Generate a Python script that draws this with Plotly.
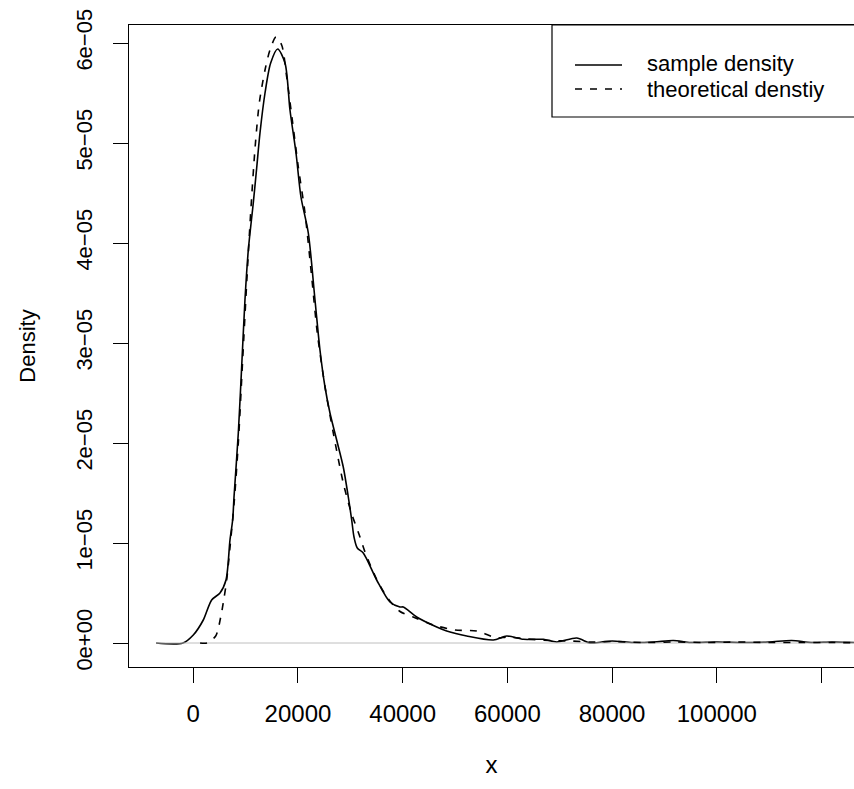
import plotly.graph_objects as go

# ---- data ----
sample_x = [-7100, -1970, 0, 1910, 3510, 5100, 6250, 7010, 7520, 7780, 8600, 9240, 9870,
            10510, 11460, 12110, 12740, 13700, 14780, 16120, 17520, 18470, 19620, 20570,
            21970, 23250, 24200, 25160, 26110, 27390, 28650, 29610, 30260, 30700, 31330,
            32470, 35030, 37570, 39480, 40120, 42670, 46500, 48410, 52230, 57320, 59870,
            63050, 66870, 69420, 73240, 75780, 78000, 80000, 84000, 88000, 91700, 95000,
            100000, 105000, 110000, 114300, 118000, 122000, 126200]
sample_y = [0, 0, 0.8e-6, 2.3e-6, 4.3e-6, 5.0e-6, 6.3e-6, 1.03e-5, 1.23e-5, 1.46e-5, 2.1e-5,
            2.76e-5, 3.43e-5, 3.93e-5, 4.4e-5, 4.75e-5, 5.1e-5, 5.5e-5, 5.8e-5, 5.94e-5,
            5.8e-5, 5.33e-5, 4.9e-5, 4.46e-5, 4.1e-5, 3.43e-5, 2.93e-5, 2.56e-5, 2.3e-5,
            2.03e-5, 1.76e-5, 1.46e-5, 1.23e-5, 1.06e-5, 9.5e-6, 9.0e-6, 6.3e-6, 4.1e-6,
            3.6e-6, 3.6e-6, 2.6e-6, 1.6e-6, 1.2e-6, 0.7e-6, 0.3e-6, 0.7e-6, 0.37e-6,
            0.37e-6, 0.1e-6, 0.5e-6, 0.0, 0.1e-6, 0.2e-6, 0.05e-6, 0.1e-6, 0.25e-6, 0.05e-6,
            0.1e-6, 0.05e-6, 0.1e-6, 0.25e-6, 0.05e-6, 0.1e-6, 0.05e-6]

theo_x = [1300, 2600, 4280, 5240, 5870, 6380, 7000, 7800, 8600, 9400, 10200, 10960, 11800,
          12610, 13700, 14650, 15800, 16880, 17840, 18990, 20060, 21340, 22620, 23690, 25200,
          26750, 28650, 30200, 31710, 32800, 35000, 37000, 39350, 42000, 45850, 50000, 54130,
          57960, 60000, 63690, 68000, 72000, 76000, 80000, 86000, 92000, 98000, 104000,
          110000, 116000, 122000, 126200]
theo_y = [0, 0, 0.7e-6, 2.6e-6, 4.5e-6, 6.3e-6, 9.5e-6, 1.4e-5, 2.0e-5, 2.8e-5, 3.6e-5,
          4.3e-5, 4.95e-5, 5.4e-5, 5.73e-5, 5.93e-5, 6.06e-5, 5.98e-5, 5.66e-5, 5.2e-5,
          4.76e-5, 4.3e-5, 3.66e-5, 3.1e-5, 2.55e-5, 2.1e-5, 1.6e-5, 1.3e-5, 1.08e-5, 9.1e-6,
          6.4e-6, 4.6e-6, 3.2e-6, 2.6e-6, 1.8e-6, 1.3e-6, 1.2e-6, 0.5e-6, 0.6e-6, 0.4e-6,
          0.25e-6, 0.2e-6, 0.1e-6, 0.15e-6, 0.05e-6, 0.1e-6, 0.05e-6, 0.1e-6, 0.05e-6,
          0.05e-6, 0.05e-6, 0.03e-6]

x_ticks = [0, 20000, 40000, 60000, 80000, 100000, 120000]
x_tick_labels = ["0", "20000", "40000", "60000", "80000", "100000", ""]
y_ticks = [0, 1e-5, 2e-5, 3e-5, 4e-5, 5e-5, 6e-5]
y_tick_labels = ["0e+00", "1e\u221205", "2e\u221205", "3e\u221205", "4e\u221205", "5e\u221205", "6e\u221205"]
legend_labels = ["sample density", "theoretical denstiy"]

FONT = "Liberation Sans, Arial, sans-serif"

fig = go.Figure()
fig.add_trace(go.Scatter(x=sample_x, y=sample_y, mode="lines", name=legend_labels[0],
                         line=dict(color="black", width=1.6, shape="spline", smoothing=0.8),
                         showlegend=False))
fig.add_trace(go.Scatter(x=[sample_x[0], sample_x[-1]], y=[0, 0], mode="lines",
                         line=dict(color="#bebebe", width=1), showlegend=False))
fig.add_trace(go.Scatter(x=theo_x, y=theo_y, mode="lines", name=legend_labels[1],
                         line=dict(color="black", width=1.6, dash="7px,8px",
                                   shape="spline", smoothing=0.8),
                         showlegend=False))

L, T, R_, B = 129, 25, 854, 667
W, H = 854, 789

def px(p):
    return (p - L) / (R_ - L)

def py(p):
    return (B - p) / (B - T)

# legend drawn by hand (R-style, box clipped at the right edge)
fig.add_shape(type="rect", xref="paper", yref="paper", x0=px(552), x1=1.1, y0=py(117), y1=py(25),
              line=dict(color="black", width=1.2), fillcolor="white", layer="above")
fig.add_shape(type="line", xref="paper", yref="paper", x0=px(575), x1=px(622), y0=py(65), y1=py(65),
              line=dict(color="black", width=1.6))
fig.add_shape(type="line", xref="paper", yref="paper", x0=px(575), x1=px(622), y0=py(89), y1=py(89),
              line=dict(color="black", width=1.6, dash="7px,8px"))
for lab, yy in zip(legend_labels, [64, 90]):
    fig.add_annotation(xref="paper", yref="paper", x=px(646), y=py(yy), text=lab, showarrow=False,
                       xanchor="left", yanchor="middle", borderpad=0,
                       font=dict(family=FONT, size=22, color="black"))

fig.update_layout(
    width=W, height=H,
    margin=dict(l=L, r=W - R_, t=T, b=H - B, autoexpand=False),
    plot_bgcolor="white", paper_bgcolor="white",
    font=dict(family=FONT, size=24, color="black"),
    xaxis=dict(range=[-12280, 126210], showgrid=False, zeroline=False,
               showline=True, mirror=True, linecolor="black", linewidth=1.2,
               ticks="outside", ticklen=15, tickwidth=1.2, tickcolor="black",
               tickvals=x_ticks, ticktext=x_tick_labels, ticklabelstandoff=10,
               tickfont=dict(family=FONT, size=24),
               title=dict(text="x", font=dict(family=FONT, size=24), standoff=30)),
    yaxis=dict(range=[-2.4e-6, 6.18e-5], showgrid=False, zeroline=False,
               showline=True, mirror=False, linecolor="black", linewidth=1.2,
               ticks="outside", ticklen=15, tickwidth=1.2, tickcolor="black",
               tickvals=y_ticks, ticktext=y_tick_labels, tickangle=-90, ticklabelstandoff=12,
               tickfont=dict(family=FONT, size=22),
               title=dict(text="Density", font=dict(family=FONT, size=22), standoff=30)),
)

fig.write_html("out.html")
